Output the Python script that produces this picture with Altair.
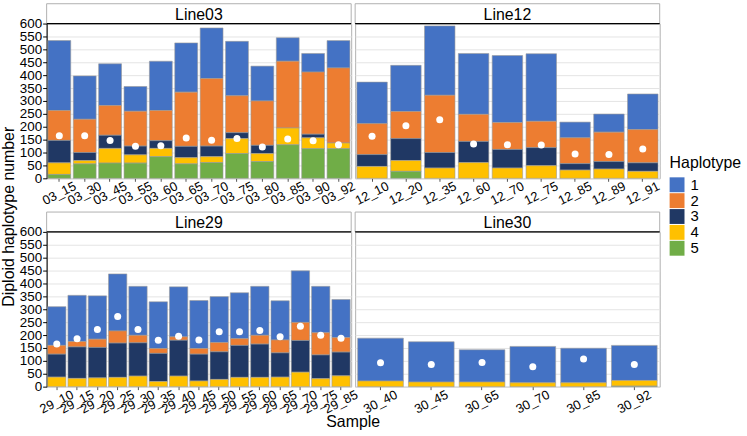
import altair as alt
import pandas as pd

FONT = "Liberation Sans"
haplotypes = ["1", "2", "3", "4", "5"]
hap_colors = ["#4472C4", "#ED7D31", "#203864", "#FFC000", "#70AD47"]
y_ticks = list(range(0, 601, 50))

line03_samples = ["03_15", "03_30", "03_45", "03_55", "03_60", "03_65", "03_70", "03_75", "03_80", "03_85", "03_90", "03_92"]
line03_h1 = [271, 168, 162, 96, 191, 191, 196, 211, 135, 91, 72, 106]
line03_h2 = [116, 129, 115, 135, 117, 210, 262, 143, 172, 259, 241, 291]
line03_h3 = [87, 31, 51, 34, 30, 44, 41, 23, 32, 0, 14, 0]
line03_h4 = [45, 13, 57, 32, 32, 24, 23, 58, 31, 65, 42, 22]
line03_h5 = [15, 56, 59, 59, 84, 56, 61, 96, 65, 130, 115, 115]
line03_dots = [165, 165, 147, 124, 126, 156, 148, 154, 121, 152, 146, 130]

line12_samples = ["12_10", "12_20", "12_35", "12_60", "12_70", "12_75", "12_85", "12_89", "12_91"]
line12_h1 = [161, 179, 269, 236, 260, 262, 61, 70, 138]
line12_h2 = [120, 105, 222, 105, 104, 102, 100, 114, 129]
line12_h3 = [46, 85, 60, 82, 72, 70, 25, 29, 33]
line12_h4 = [46, 42, 40, 61, 40, 49, 32, 36, 27]
line12_h5 = [0, 27, 0, 0, 0, 0, 0, 0, 0]
line12_dots = [163, 204, 227, 133, 130, 129, 94, 92, 114]

line29_samples = ["29_10", "29_15", "29_20", "29_25", "29_30", "29_35", "29_40", "29_45",
                  "29_50", "29_55", "29_60", "29_65", "29_70", "29_75", "29_85"]
line29_h1 = [150, 179, 168, 221, 190, 181, 194, 186, 178, 178, 190, 152, 200, 180, 148]
line29_h2 = [34, 21, 32, 47, 29, 19, 13, 22, 36, 26, 34, 50, 70, 86, 56]
line29_h3 = [89, 122, 118, 133, 129, 109, 139, 104, 107, 124, 129, 94, 123, 92, 92]
line29_h4 = [37, 32, 34, 36, 41, 20, 41, 22, 28, 36, 36, 37, 56, 31, 42]
line29_h5 = [0] * 15
line29_dots = [165, 186, 222, 272, 222, 180, 195, 181, 213, 213, 218, 193, 234, 199, 188]

line30_samples = ["30_40", "30_45", "30_65", "30_70", "30_85", "30_92"]
line30_h1 = [166, 156, 125, 141, 134, 136]
line30_h2 = [0, 0, 0, 0, 0, 0]
line30_h3 = [0, 0, 0, 0, 0, 0]
line30_h4 = [22, 18, 18, 15, 15, 22]
line30_h5 = [0, 0, 0, 0, 0, 2]
line30_dots = [93, 86, 94, 77, 107, 86]

W, H, SH = 307, 156, 20
GAP = 4


def make_frames(samples, h1, h2, h3, h4, h5, dots):
    rows = []
    for i, s in enumerate(samples):
        for hap, vals in zip(haplotypes, [h1, h2, h3, h4, h5]):
            if vals[i] > 0:
                rows.append({"Sample": s, "Haplotype": hap, "Count": vals[i], "Order": int(hap)})
    bars = pd.DataFrame(rows)
    pts = pd.DataFrame({"Sample": samples, "Value": dots})
    return bars, pts


def panel(label, samples, h1, h2, h3, h4, h5, dots, left, legend, xtitle=False):
    bars_df, pts_df = make_frames(samples, h1, h2, h3, h4, h5, dots)
    xaxis = alt.Axis(labelAngle=-27, labelAlign="center", labelBaseline="middle",
                     labelPadding=12, labelFontSize=13, labelFont=FONT, labelColor="black",
                     ticks=True, tickSize=3, tickColor="#555", domain=False,
                     labelOverlap=False, title=None)
    xscale = alt.Scale(paddingInner=0.1, paddingOuter=0.05)
    if left:
        yaxis = alt.Axis(values=y_ticks, title=None, labelFontSize=13.5, labelFont=FONT, labelColor="black",
                         labelPadding=1, tickColor="black", tickSize=4, domainColor="black",
                         grid=True, gridColor="#e4e4e4", labelOverlap=False)
    else:
        yaxis = alt.Axis(values=y_ticks, title=None, labels=False, ticks=False, domain=False,
                         grid=True, gridColor="#e4e4e4")
    yscale = alt.Scale(domain=[0, 600], nice=False)
    leg = alt.Legend(title="Haplotype", orient="none", legendX=628, legendY=133,
                     titleFontSize=16, titleFont=FONT, titleFontWeight="normal", titleColor="black",
                     labelFontSize=15, labelFont=FONT, labelColor="black",
                     symbolType="square", symbolSize=225, symbolStrokeWidth=0,
                     rowPadding=0, labelOffset=6, titlePadding=6) if legend else None
    bars = alt.Chart(bars_df).mark_bar(stroke="#9a9a9a", strokeWidth=0.6).encode(
        x=alt.X("Sample:N", sort=samples, scale=xscale, axis=xaxis),
        y=alt.Y("Count:Q", stack="zero", scale=yscale, axis=yaxis),
        color=alt.Color("Haplotype:N", scale=alt.Scale(domain=haplotypes, range=hap_colors), legend=leg),
        order=alt.Order("Order:Q", sort="descending"),
    )
    pts = alt.Chart(pts_df).mark_circle(color="white", opacity=1, size=50).encode(
        x=alt.X("Sample:N", sort=samples, scale=xscale, axis=xaxis),
        y=alt.Y("Value:Q", scale=yscale, axis=yaxis),
    )
    one = pd.DataFrame({"t": [label], "xt": ["Sample"]})
    strip_box = alt.Chart(one).mark_rect(fill="white", stroke="#b0b0b0", strokeWidth=1).encode(
        x=alt.value(0), x2=alt.value(W), y=alt.value(-SH), y2=alt.value(0)
    )
    strip_text = alt.Chart(one).mark_text(
        fontSize=16, font=FONT, color="black", baseline="middle", align="center"
    ).encode(text="t:N", x=alt.value(W / 2), y=alt.value(-SH / 2 + 1))
    top = alt.Chart(one).mark_rule(color="black", strokeWidth=1.2).encode(
        x=alt.value(0), x2=alt.value(W), y=alt.value(0)
    )
    layers = [bars, pts, strip_box, strip_text, top]
    if xtitle:
        layers.append(alt.Chart(one).mark_text(
            fontSize=16, font=FONT, color="black", baseline="middle", align="center"
        ).encode(text="xt:N", x=alt.value(W + GAP / 2), y=alt.value(H + 36)))
    return alt.layer(*layers).properties(width=W, height=H)


p03 = panel("Line03", line03_samples, line03_h1, line03_h2, line03_h3, line03_h4, line03_h5, line03_dots, True, True)
p12 = panel("Line12", line12_samples, line12_h1, line12_h2, line12_h3, line12_h4, line12_h5, line12_dots, False, False)
p29 = panel("Line29", line29_samples, line29_h1, line29_h2, line29_h3, line29_h4, line29_h5, line29_dots, True, False, True)
p30 = panel("Line30", line30_samples, line30_h1, line30_h2, line30_h3, line30_h4, line30_h5, line30_dots, False, False)

chart = alt.concat(p03, p12, p29, p30, columns=2, bounds="flush",
                   spacing=alt.RowColnumber(row=54, column=GAP)).resolve_scale(
    x="independent", y="independent", color="shared"
).properties(
    title=alt.TitleParams("Diploid haplotype number", orient="left", anchor="middle",
                          fontSize=16, font=FONT, fontWeight="normal", color="black", offset=2),
    padding={"left": 0, "top": 1, "right": 5, "bottom": 3},
).configure_view(stroke="#b0b0b0", strokeWidth=1)

chart.save("out.html", embed_options={"renderer": "svg", "actions": False})
